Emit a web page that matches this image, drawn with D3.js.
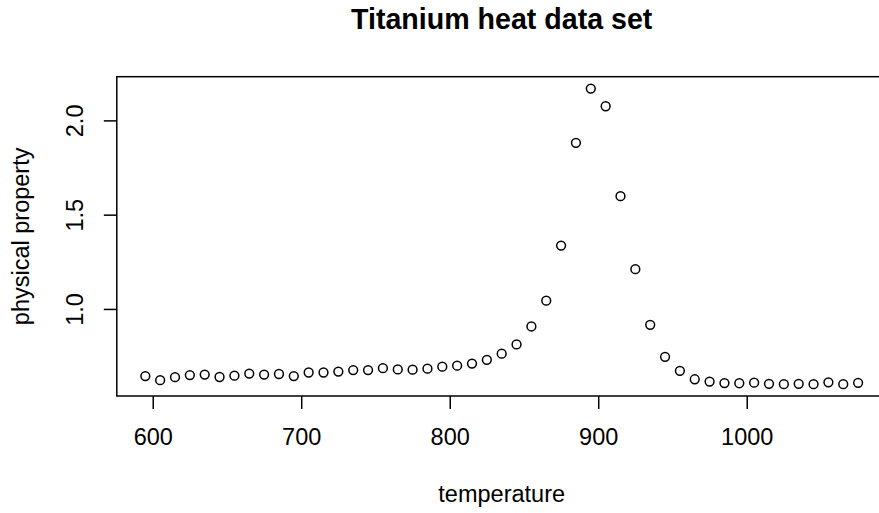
<!DOCTYPE html>
<html>
<head>
<meta charset="utf-8">
<script src="https://cdn.jsdelivr.net/npm/d3@7"></script>
<style>
  html, body { margin: 0; padding: 0; background: #fff; }
  svg { display: block; }
  text { font-family: "Liberation Sans", Arial, sans-serif; fill: #000; }
</style>
</head>
<body>
<svg id="chart" width="879" height="513"></svg>
<script>
const temperature = [595, 605, 615, 625, 635, 645, 655, 665, 675, 685, 695, 705, 715, 725, 735, 745, 755, 765, 775, 785, 795, 805, 815, 825, 835, 845, 855, 865, 875, 885, 895, 905, 915, 925, 935, 945, 955, 965, 975, 985, 995, 1005, 1015, 1025, 1035, 1045, 1055, 1065, 1075];
const property = [0.644, 0.622, 0.638, 0.649, 0.652, 0.639, 0.646, 0.657, 0.652, 0.655, 0.644, 0.663, 0.663, 0.668, 0.676, 0.676, 0.686, 0.679, 0.678, 0.683, 0.694, 0.699, 0.710, 0.730, 0.763, 0.812, 0.907, 1.044, 1.336, 1.881, 2.169, 2.075, 1.598, 1.211, 0.916, 0.746, 0.672, 0.627, 0.615, 0.607, 0.606, 0.609, 0.603, 0.601, 0.603, 0.601, 0.611, 0.601, 0.608];
const xTicks = [600, 700, 800, 900, 1000];
const yTicks = [1.0, 1.5, 2.0];
const yTickLabels = ["1.0", "1.5", "2.0"];
const titleText = "Titanium heat data set";
const xLabel = "temperature";
const yLabel = "physical property";

(function () {
const svg = d3.select("#chart");
const pl = 116.8, pr = 886.6, pt = 76.7, pb = 396;

function padExtent(vals) {
  const [a, b] = d3.extent(vals);
  const p = (b - a) * 0.04;
  return [a - p, b + p];
}

const x = d3.scaleLinear().domain(padExtent(temperature)).range([pl, pr]);
const y = d3.scaleLinear().domain(padExtent(property)).range([pb, pt]);

svg.append("rect")
  .attr("x", pl).attr("y", pt)
  .attr("width", pr - pl).attr("height", pb - pt)
  .attr("fill", "none").attr("stroke", "#000").attr("stroke-width", 1.5);

const xAxis = d3.axisBottom(x).tickValues(xTicks).tickSize(13).tickPadding(0).tickFormat(d3.format("d"));
const gx = svg.append("g").attr("transform", `translate(0,${pb})`).call(xAxis);
gx.select(".domain").remove();
gx.selectAll(".tick line").attr("stroke", "#000").attr("stroke-width", 1.5);
gx.selectAll(".tick text")
  .attr("y", 49).attr("dy", null)
  .style("font-size", "23.5px").style("font-family", "Liberation Sans, Arial, sans-serif").attr("fill", "#000");

const yAxis = d3.axisLeft(y).tickValues(yTicks).tickSize(13).tickFormat((d, i) => yTickLabels[i]);
const gy = svg.append("g").attr("transform", `translate(${pl},0)`).call(yAxis);
gy.select(".domain").remove();
gy.selectAll(".tick line").attr("stroke", "#000").attr("stroke-width", 1.5);
gy.selectAll(".tick text")
  .attr("x", null).attr("dy", null)
  .attr("text-anchor", "middle")
  .attr("transform", "translate(-33.5,0) rotate(-90)")
  .style("font-size", "23.5px").style("font-family", "Liberation Sans, Arial, sans-serif").attr("fill", "#000");

svg.append("g").selectAll("circle")
  .data(temperature.map((t, i) => [t, property[i]]))
  .join("circle")
  .attr("cx", d => x(d[0]))
  .attr("cy", d => y(d[1]))
  .attr("r", 4.4)
  .attr("fill", "none")
  .attr("stroke", "#000")
  .attr("stroke-width", 1.5);

svg.append("text")
  .attr("x", (pl + pr) / 2).attr("y", 29.3)
  .attr("text-anchor", "middle")
  .style("font-size", "28.6px").style("font-weight", "bold")
  .text(titleText);

svg.append("text")
  .attr("x", (pl + pr) / 2).attr("y", 502)
  .attr("text-anchor", "middle")
  .style("font-size", "23.5px")
  .text(xLabel);

svg.append("text")
  .attr("transform", `translate(28.5,${(pt + pb) / 2}) rotate(-90)`)
  .attr("text-anchor", "middle")
  .style("font-size", "23.5px")
  .text(yLabel);
})();
</script>
</body>
</html>
